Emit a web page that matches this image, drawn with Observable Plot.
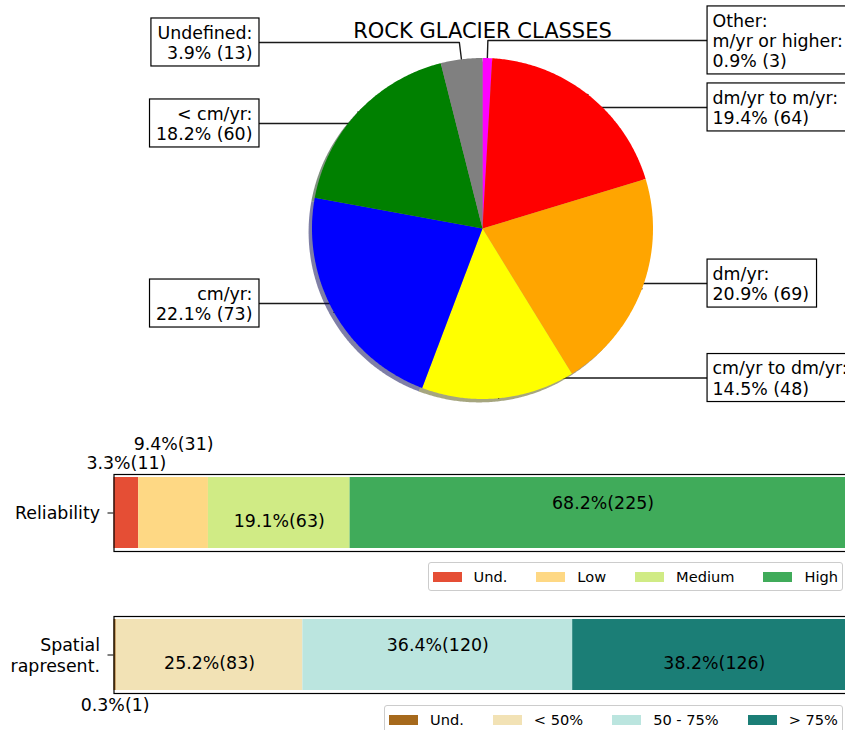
<!DOCTYPE html>
<html>
<head>
<meta charset="utf-8">
<script src="https://cdn.jsdelivr.net/npm/d3@7"></script>
<script src="https://cdn.jsdelivr.net/npm/@observablehq/plot@0.6"></script>
<style>
  html, body { margin: 0; padding: 0; background: #fff; overflow: hidden; width: 845px; height: 730px; }
  #root { position: relative; width: 845px; height: 730px; font-family: "DejaVu Sans", sans-serif; overflow: hidden; }
  #root svg { position: absolute; left: 0; }
  .legend { position: absolute; right: 2px; height: 29px; box-sizing: border-box; border: 1px solid #cccccc; border-radius: 3px;
            background: rgba(255,255,255,0.8); display: flex; align-items: center; padding: 0 4px 0 4px;
            font: 14.6px "DejaVu Sans", sans-serif; color: #000; white-space: nowrap; }
  .legend .sw { display: inline-block; width: 29px; height: 10px; margin-right: 12px; }
  .legend .it { display: flex; align-items: center; }
  .legend .it + .it { margin-left: 29px; }
</style>
</head>
<body>
<div id="root"></div>
<script>
// ---------------- data ----------------
const pieTitle = "ROCK GLACIER CLASSES";
const pieClasses = ["Other:\nm/yr or higher:", "dm/yr to m/yr:", "dm/yr:", "cm/yr to dm/yr:", "cm/yr:", "< cm/yr:", "Undefined:"];
const pieCounts = [3, 64, 69, 48, 73, 60, 13];
const pieColors = ["#ff00ff", "#ff0000", "#ffa500", "#ffff00", "#0000ff", "#008000", "#808080"];

const relRow = "Reliability";
const relCategories = ["Und.", "Low", "Medium", "High"];
const relCounts = [11, 31, 63, 225];
const relColors = ["#e54e35", "#fed884", "#d0eb85", "#40ab5a"];

const spaRow = "Spatial\nrapresent.";
const spaCategories = ["Und.", "< 50%", "50 - 75%", "> 75%"];
const spaCounts = [1, 83, 120, 126];
const spaColors = ["#a6691c", "#f2e2b5", "#bbe5df", "#1b7e76"];

// ---------------- layout (not data) ----------------
const pieLabelY = [1.103, 0.71, -0.323, -0.877, -0.44, 0.616, 1.091]; // in pie radii
const relLabelDy = [-49.5, -68.5, 8.5, -9.5];
const spaLabelDy = [50.5, 8.5, -9.5, 8.5];
const R = 170.5, CX = 482, CY = 228;
const FS = 17.4;

const root = document.getElementById("root");
function place(svg, top) {
  svg.style.position = "absolute";
  svg.style.top = top + "px";
  svg.style.left = "0px";
  svg.style.maxWidth = "none";
  svg.style.background = "transparent";
  svg.style.fontFamily = '"DejaVu Sans", sans-serif';
  root.appendChild(svg);
}

// ---------------- pie ----------------
const total = d3.sum(pieCounts);
let ang = 90;
const wedges = pieCounts.map((c, i) => {
  const span = c / total * 360;
  const a0 = ang, a1 = ang - span; ang = a1;
  const n = Math.max(2, Math.ceil(span / 0.5));
  const pts = [[0, 0]];
  for (let k = 0; k <= n; k++) {
    const t = (a0 + (a1 - a0) * k / n) * Math.PI / 180;
    pts.push([Math.cos(t), Math.sin(t)]);
  }
  const rgb = d3.rgb(pieColors[i]);
  const shadow = d3.rgb(rgb.r * 0.3, rgb.g * 0.3, rgb.b * 0.3).formatHex();
  return {i, c, color: pieColors[i], shadow, pts, mid: (a0 + a1) / 2};
});

const ctx = document.createElement("canvas").getContext("2d");
ctx.font = FS + 'px "DejaVu Sans"';
const labels = wedges.map(w => {
  const pct = (w.c / total * 100).toFixed(1);
  const text = `${pieClasses[w.i]}\n${pct}% (${w.c})`;
  const lines = text.split("\n");
  const wpx = d3.max(lines, l => ctx.measureText(l).width);
  const th = w.mid * Math.PI / 180;
  const px = Math.cos(th), py = Math.sin(th);
  const right = px >= 0;
  const ty = pieLabelY[w.i];
  const edge = right ? 1.32 : -1.308;
  const bw = (wpx + 13) / R, bh = (lines.length * 20 + 8) / R;
  const cornerX = (ty / py) * px;
  return {
    text, right, ty,
    x1: right ? edge : edge - bw, x2: right ? edge + bw : edge,
    y1: ty - bh / 2, y2: ty + bh / 2,
    tx: right ? edge + 5 / R : edge - 7 / R,
    path: [[edge, ty], [cornerX, ty], [px, py]]
  };
});

const pieMarks = [
  ...labels.map(l => Plot.line(l.path, {x: d => d[0], y: d => d[1], stroke: "#1a1a1a", strokeWidth: 1.4})),
  Plot.rect(labels, {x1: "x1", x2: "x2", y1: "y1", y2: "y2", fill: "white", stroke: "black", strokeWidth: 1.2}),
  ...wedges.map(w => Plot.line(w.pts, {x: d => d[0] - 0.02, y: d => d[1] - 0.02, fill: w.shadow, fillOpacity: 0.5, stroke: "none", curve: "linear-closed"})),
  ...wedges.map(w => Plot.line(w.pts, {x: d => d[0], y: d => d[1], fill: w.color, stroke: "none", curve: "linear-closed"})),
  Plot.text(labels.filter(l => l.right), {x: "tx", y: "ty", text: "text", textAnchor: "start", lineAnchor: "middle", lineHeight: 1.16, fontSize: FS, fill: "black"}),
  Plot.text(labels.filter(l => !l.right), {x: "tx", y: "ty", text: "text", textAnchor: "end", lineAnchor: "middle", lineHeight: 1.16, fontSize: FS, fill: "black"}),
  Plot.text([pieTitle], {x: () => 0, y: () => (CY - 37.7) / R, text: d => d, textAnchor: "middle", lineAnchor: "bottom", fontSize: 21, fill: "black"})
];

const pie = Plot.plot({
  width: 870, height: 420, margin: 0,
  x: {domain: [-1, 1], range: [CX - R, CX + R], axis: null},
  y: {domain: [-1, 1], range: [CY + R, CY - R], axis: null},
  marks: pieMarks
});
place(pie, 0);

// ---------------- stacked bars ----------------
function barChart(row, cats, counts, colors, dys, top, height, mTop, mBottom) {
  const tot = d3.sum(counts);
  const data = cats.map((k, i) => ({row, k, count: counts[i], color: colors[i]}));
  const cum = Array.from(d3.cumsum(counts));
  const marks = [
    Plot.barX(data, Plot.stackX({x: "count", y: "row", fill: "color", order: null})),
    Plot.frame({stroke: "black", strokeWidth: 1.2}),
    Plot.text([row], {x: () => 0, y: d => d, text: d => d, textAnchor: "end", dx: -14, fontSize: FS, lineAnchor: "middle", lineHeight: 1.16, fill: "black"}),
    ...data.map((d, i) => Plot.text([d], {
      x: () => cum[i] - d.count / 2, y: "row",
      text: v => `${(v.count / tot * 100).toFixed(1)}%(${v.count})`,
      dy: dys[i], fontSize: FS, textAnchor: "middle", lineAnchor: "middle", fill: "black"
    }))
  ];
  const svg = Plot.plot({
    width: 870, height, marginLeft: 113.5, marginRight: 14.5, marginTop: mTop, marginBottom: mBottom,
    x: {domain: [0, tot], axis: null},
    y: {domain: [row], padding: 0.04, tickSize: 6, tickFormat: () => "", label: null},
    color: {type: "identity"},
    marks
  });
  place(svg, top);
}
barChart(relRow, relCategories, relCounts, relColors, relLabelDy, 430, 130, 44, 9);
barChart(spaRow, spaCategories, spaCounts, spaColors, spaLabelDy, 600, 115, 16, 22);

// ---------------- legends ----------------
function legend(cats, colors, top) {
  const div = document.createElement("div");
  div.className = "legend";
  div.style.top = top + "px";
  cats.forEach((c, i) => {
    const it = document.createElement("span");
    it.className = "it";
    const sw = document.createElement("span");
    sw.className = "sw";
    sw.style.background = colors[i];
    const tx = document.createElement("span");
    tx.textContent = c;
    it.appendChild(sw); it.appendChild(tx);
    div.appendChild(it);
  });
  root.appendChild(div);
}
legend(relCategories, relColors, 562);
legend(spaCategories, spaColors, 705);
</script>
</body>
</html>
